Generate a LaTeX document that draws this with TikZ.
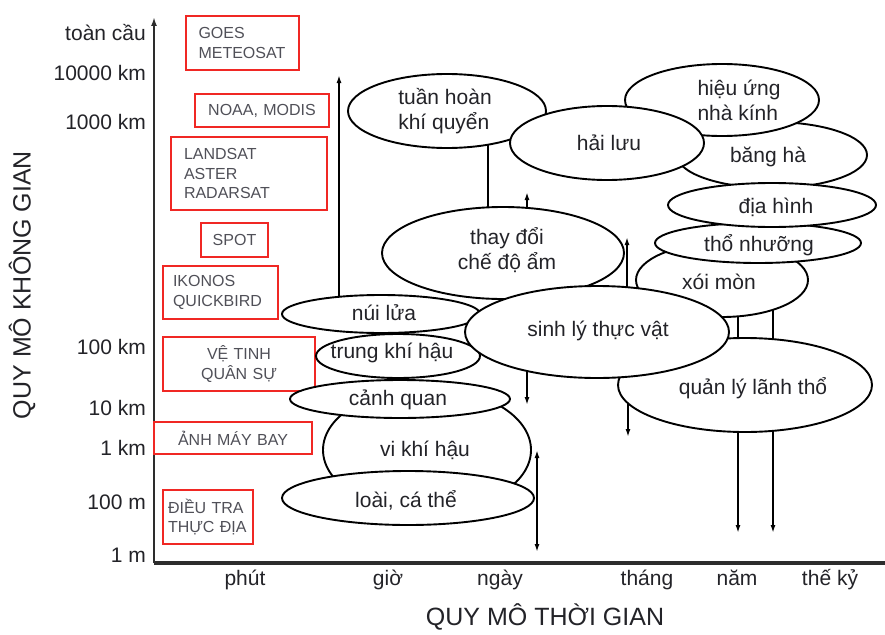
\documentclass[tikz,border=0pt]{standalone}
\usepackage{fontspec}
\setmainfont{Liberation Sans}
\usetikzlibrary{shapes.geometric,arrows.meta}
\pgfdeclarelayer{back}
\pgfdeclarelayer{bg}
\pgfsetlayers{back,bg,main}
\definecolor{boxred}{RGB}{240,40,36}
\definecolor{boxtxt}{RGB}{80,80,88}
\definecolor{ink}{RGB}{35,35,40}
\definecolor{axisc}{RGB}{45,45,45}
\begin{document}
\begin{tikzpicture}[x=1pt,y=-1pt,
  bubble/.style={ellipse, draw=black, line width=1.9pt, fill=white, inner sep=0pt},
  btxt/.style={text=ink, font=\fontsize{21}{25}\selectfont, inner sep=0pt},
  rbox/.style={rectangle, draw=boxred, line width=2.5pt, text=boxtxt, font=\fontsize{16}{19.5}\selectfont, inner ysep=0pt},
  ylab/.style={anchor=east, text=ink, font=\fontsize{21}{25}\selectfont, inner sep=0pt},
  xlab/.style={anchor=base, text=ink, font=\fontsize{21}{25}\selectfont, inner sep=0pt},
  ttl/.style={text=ink, font=\fontsize{25}{29}\selectfont, inner sep=0pt},
  arr/.style={line width=1.8pt, draw=black, -{Latex[length=8pt,width=5pt]}},
  arrtwo/.style={line width=1.8pt, draw=black, {Latex[length=8pt,width=5pt]}-{Latex[length=8pt,width=5pt]}},
  plainline/.style={line width=1.8pt, draw=black},
  axisline/.style={draw=axisc, line width=2.6pt}]
\useasboundingbox (0,0) rectangle (885,634);
\begin{pgfonlayer}{back}
\fill[white] (0,0) rectangle (885,634);
\end{pgfonlayer}

% axes
\coordinate (origin) at (154,563);
\coordinate (ytop) at (154,17);
\coordinate (xend) at (885,563);
\draw[axisline, line width=2.2pt, -{Latex[length=9pt,width=6pt]}] (origin) -- (ytop);
\draw[axisline, line width=3.2pt] (origin) -- (xend);

% y labels
\node[ylab] (l1) at (146,33) {toàn cầu};
\node[ylab] (l2) at (146,73) {10000 km};
\node[ylab] (l3) at (146,122) {1000 km};
\node[ylab] (l4) at (146,347) {100 km};
\node[ylab] (l5) at (146,408) {10 km};
\node[ylab] (l6) at (146,448) {1 km};
\node[ylab] (l7) at (146,502) {100 m};
\node[ylab] (l8) at (146,555) {1 m};

% x labels
\node[xlab] (t1l) at (245,585) {phút};
\node[xlab] (t2l) at (388,585) {giờ};
\node[xlab] (t3l) at (500,585) {ngày};
\node[xlab] (t4l) at (647,585) {tháng};
\node[xlab] (t5l) at (737,585) {năm};
\node[xlab] (t6l) at (830,585) {thế kỷ};

% titles
\node[ttl, rotate=90] (ytitle) at (22,285) {QUY MÔ KHÔNG GIAN};
\node[ttl] (xtitle) at (545,617) {QUY MÔ THỜI GIAN};

% red boxes
\node[rbox, minimum height=54pt, text width=88pt, inner xsep=12.5pt, align=left] (goes) at (242.5,43) {GOES\\METEOSAT};
\node[rbox, minimum height=33pt, text width=118pt, inner xsep=8pt, align=center] (noaa) at (262,110.5) {NOAA, MODIS};
\node[rbox, minimum height=73pt, text width=130pt, inner xsep=13pt, align=left] (landsat) at (249,173.5) {LANDSAT\\ASTER\\RADARSAT};
\node[rbox, minimum height=34pt, text width=51pt, inner xsep=8pt, align=center] (spot) at (234.5,240) {SPOT};
\node[rbox, minimum height=53pt, text width=95pt, inner xsep=10pt, align=left] (ikonos) at (220.5,292.5) {IKONOS\\QUICKBIRD};
\node[rbox, minimum height=54pt, text width=120pt, inner xsep=16pt, align=center] (vetinh) at (239,364) {VỆ TINH\\QUÂN SỰ};
\node[rbox, minimum height=32pt, text width=140pt, inner xsep=9pt, align=center] (anh) at (233,438) {ẢNH MÁY BAY};
\node[rbox, minimum height=54pt, text width=80pt, inner xsep=5pt, align=left] (dieutra) at (208,517) {ĐIỀU TRA\\THỰC ĐỊA};

% ellipses (drawing order = stacking order)
\node[bubble, minimum width=190pt, minimum height=66pt] (bangha) at (772,155) {};
\node[bubble, minimum width=194pt, minimum height=72pt] (hieuung) at (722,100) {};
\node[bubble, minimum width=198pt, minimum height=74pt] (tuanhoan) at (447,111) {};
\node[bubble, minimum width=194pt, minimum height=74pt] (hailuu) at (607,143) {};
\node[bubble, minimum width=172pt, minimum height=74pt] (xoimon) at (722,280) {};
\node[bubble, minimum width=206pt, minimum height=40pt] (thonhuong) at (758,243) {};
\node[bubble, minimum width=208pt, minimum height=44pt] (diahinh) at (772,205) {};
\node[bubble, minimum width=242pt, minimum height=92pt] (thaydoi) at (503,253) {};
\node[bubble, minimum width=254pt, minimum height=94pt] (quanly) at (745,385) {};
\node[bubble, minimum width=198pt, minimum height=38pt] (nuilua) at (381,314) {};
\node[bubble, minimum width=164pt, minimum height=44pt] (trungkh) at (398,356) {};
\node[bubble, minimum width=264pt, minimum height=92pt] (sinhly) at (597,332) {};
\node[bubble, minimum width=208pt, minimum height=124pt] (vikhihau) at (427,450) {};
\node[bubble, minimum width=220pt, minimum height=38pt] (canhquan) at (400,399) {};
\node[bubble, minimum width=252pt, minimum height=54pt] (loai) at (408,498) {};

% ellipse texts
\node[btxt, align=left] (tx1) at (445,111) {tuần hoàn\\khí quyển};
\node[btxt] (tx2) at (609,143) {hải lưu};
\node[btxt, align=left] (tx3) at (739,100) {hiệu ứng\\nhà kính};
\node[btxt] (tx4) at (768,157) {băng hà};
\node[btxt] (tx5) at (776,207) {địa hình};
\node[btxt] (tx6) at (759,245) {thổ nhưỡng};
\node[btxt] (tx7) at (719,282) {xói mòn};
\node[btxt, align=center] (tx8) at (507,250) {thay đổi\\chế độ ẩm};
\node[btxt] (tx9) at (384,313) {núi lửa};
\node[btxt] (tx10) at (392,353) {trung khí hậu};
\node[btxt] (tx11) at (598,331) {sinh lý thực vật};
\node[btxt] (tx12) at (398,400) {cảnh quan};
\node[btxt] (tx13) at (425,450) {vi khí hậu};
\node[btxt] (tx14) at (406,500) {loài, cá thể};
\node[btxt] (tx15) at (753,388) {quản lý lãnh thổ};

% connectors (behind the ellipses)
\coordinate (e1) at (339,75);
\coordinate (x488) at (488,0);
\coordinate (e3) at (527,192);
\coordinate (e4) at (627,237);
\coordinate (e5) at (527,405);
\coordinate (e6) at (628,437);
\coordinate (e7) at (738,533);
\coordinate (e8) at (773,533);
\coordinate (e9a) at (537,450);
\coordinate (e9b) at (537,552);
\begin{pgfonlayer}{bg}
\draw[arr] (nuilua.center -| e1) -- (e1);
\draw[plainline] (tuanhoan.center -| x488) -- (thaydoi.center -| x488);
\draw[arr] (thaydoi.center -| e3) -- (e3);
\draw[arr] (sinhly.center -| e4) -- (e4);
\draw[arr] (sinhly.center -| e5) -- (e5);
\draw[arr] (quanly.center -| e6) -- (e6);
\draw[arr] (xoimon.center -| e7) -- (e7);
\draw[arr] (xoimon.center -| e8) -- (e8);
\draw[arrtwo] (e9a) -- (e9b);
\end{pgfonlayer}
\end{tikzpicture}
\end{document}
